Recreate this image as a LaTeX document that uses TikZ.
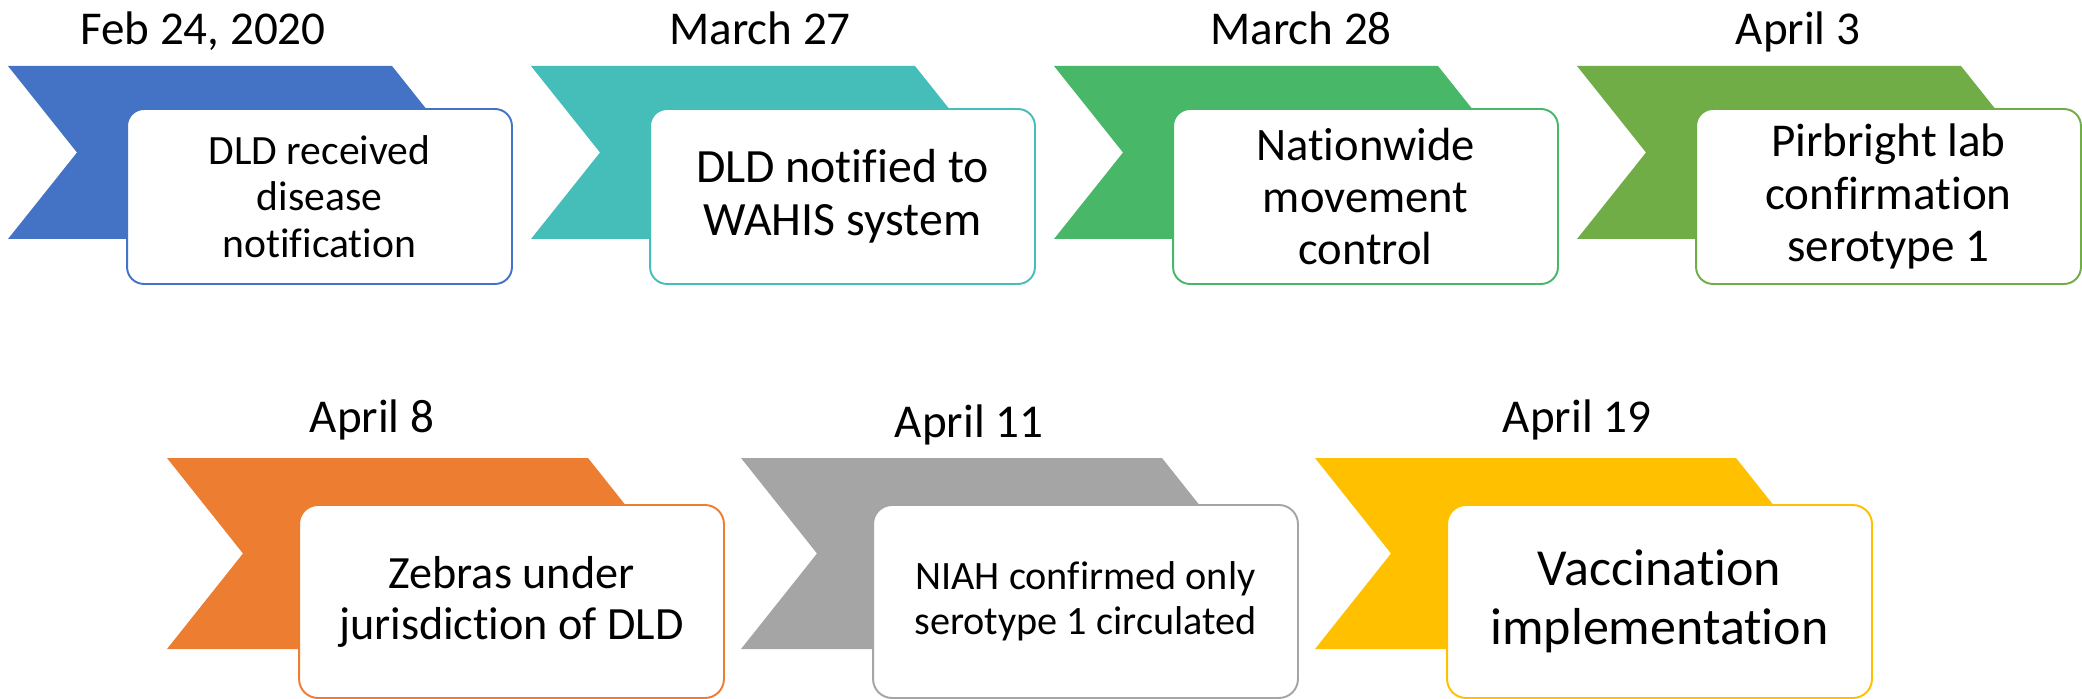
\documentclass[tikz,border=0pt]{standalone}
\usepackage{fontspec}
\setmainfont{Carlito}[Ligatures=NoCommon]
\definecolor{ptblue}{HTML}{4472C4}
\definecolor{ptteal}{RGB}{69,190,185}
\definecolor{ptgreen}{RGB}{72,183,103}
\definecolor{ptolive}{HTML}{70AD47}
\definecolor{ptorange}{HTML}{ED7D31}
\definecolor{ptgrey}{HTML}{A5A5A5}
\definecolor{ptgold}{HTML}{FFC000}
\tikzset{
  eventbox/.style={draw=#1, fill=white, line width=1.1pt, rounded corners=0.34cm,
    minimum width=7.7cm, minimum height=3.5cm, inner sep=0pt, align=center},
  eventboxbig/.style={eventbox=#1, rounded corners=0.38cm,
    minimum width=8.5cm, minimum height=3.86cm},
  datelbl/.style={anchor=base, font=\fontsize{26.8}{30}\selectfont},
}
\begin{document}
\begin{tikzpicture}[x=0.02cm, y=-0.02cm]
    \useasboundingbox (0,0) rectangle (2082,699);

    % top row
    \fill[ptblue] (8,66) -- (392,66) -- (461,152.5) -- (392,239) -- (8,239) -- (77,152.5) -- cycle;
    \fill[ptteal] (531,66) -- (915,66) -- (984,152.5) -- (915,239) -- (531,239) -- (600,152.5) -- cycle;
    \fill[ptgreen] (1054,66) -- (1438,66) -- (1507,152.5) -- (1438,239) -- (1054,239) -- (1123,152.5) -- cycle;
    \fill[ptolive] (1577,66) -- (1961,66) -- (2030,152.5) -- (1961,239) -- (1577,239) -- (1646,152.5) -- cycle;

    \node[eventbox=ptblue, font=\fontsize{23.7}{26.6}\selectfont] (ev1) at (319.5,196.5) {DLD received\\disease\\notification};
    \node[eventbox=ptteal, font=\fontsize{27.2}{30}\selectfont] (ev2) at (842.5,196.5) {DLD notified to\\WAHIS system};
    \node[eventbox=ptgreen, font=\fontsize{26.5}{29.5}\selectfont] (ev3) at (1365.5,196.5) {Nationwide\\movement\\control};
    \node[eventbox=ptolive, font=\fontsize{26.8}{30}\selectfont] (ev4) at (1888.5,196.5) {Pirbright lab\\confirmation\\serotype 1};

    \node[datelbl] (d1) at (203,45) {Feb 24, 2020};
    \node[datelbl] (d2) at (760,45) {March 27};
    \node[datelbl] (d3) at (1301,45) {March 28};
    \node[datelbl] (d4) at (1798,45) {April 3};

    % bottom row
    \fill[ptorange] (167,458) -- (588,458) -- (664,553.5) -- (588,649) -- (167,649) -- (243,553.5) -- cycle;
    \fill[ptgrey] (741,458) -- (1162,458) -- (1238,553.5) -- (1162,649) -- (741,649) -- (817,553.5) -- cycle;
    \fill[ptgold] (1315,458) -- (1736,458) -- (1812,553.5) -- (1736,649) -- (1315,649) -- (1391,553.5) -- cycle;

    \node[eventboxbig=ptorange, font=\fontsize{26.3}{29}\selectfont] (ev5) at (511.5,601.5) {Zebras under\\jurisdiction of DLD};
    \node[eventboxbig=ptgrey, font=\fontsize{22.9}{25.5}\selectfont] (ev6) at (1085.5,601.5) {NIAH confirmed only\\serotype 1 circulated};
    \node[eventboxbig=ptgold, font=\fontsize{29.6}{33.5}\selectfont] (ev7) at (1659.5,601.5) {Vaccination\\implementation};

    \node[datelbl] (d5) at (372,432) {April 8};
    \node[datelbl] (d6) at (969,437) {April 11};
    \node[datelbl] (d7) at (1577,432) {April 19};
  \end{tikzpicture}
\end{document}
